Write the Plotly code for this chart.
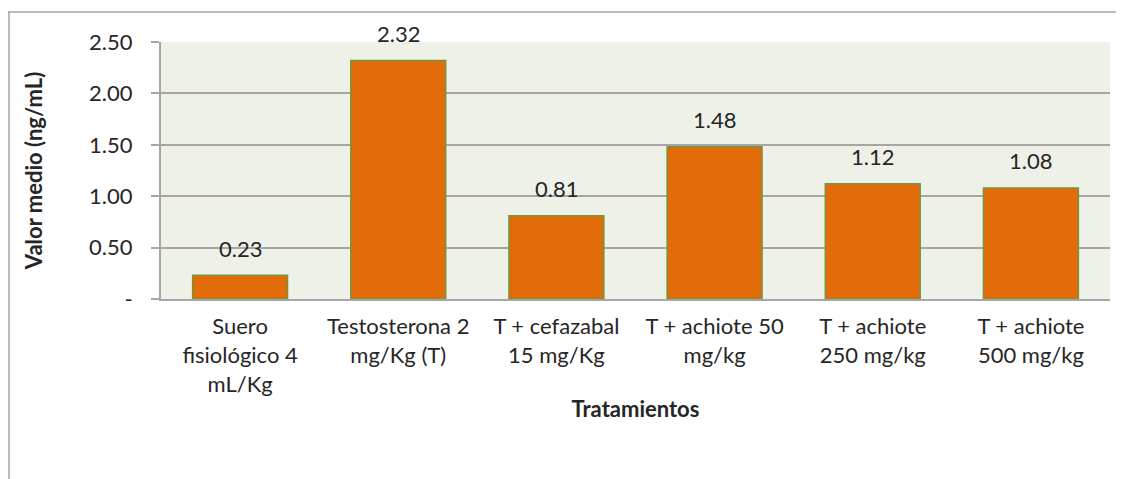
import plotly.graph_objects as go

categories = ["Suero<br>fisiológico 4<br>mL/Kg", "Testosterona 2<br>mg/Kg (T)", "T + cefazabal<br>15 mg/Kg",
              "T + achiote 50<br>mg/kg", "T + achiote<br>250 mg/kg", "T + achiote<br>500 mg/kg"]
values = [0.23, 2.32, 0.81, 1.48, 1.12, 1.08]
labels = ["0.23", "2.32", "0.81", "1.48", "1.12", "1.08"]
tick_vals = [0, 0.5, 1.0, 1.5, 2.0, 2.5]
tick_text = ["-", "0.50", "1.00", "1.50", "2.00", "2.50"]

FONT = "Lato, 'Open Sans', sans-serif"
GRID = "#A6A6A6"
FS = 22

# page has an 8px body margin, so figure is offset by (8, 8)
W, H = 1116, 471
L, R, T, B = 153, 14, 34, 180
PW, PH = W - L - R, H - T - B

fig = go.Figure()
fig.add_trace(go.Bar(
    x=list(range(len(categories))), y=values, width=0.6,
    marker=dict(color="#E36C0A", line=dict(color="#77933C", width=1.5)),
    showlegend=False, hoverinfo="skip",
))
for i, (v, t) in enumerate(zip(values, labels)):
    fig.add_annotation(x=i, y=v, text=t, showarrow=False, yshift=27,
                       font=dict(size=FS, color="#262626", family=FONT))

top_y = 1 + (T - 4) / PH
left_x = -L / PW
fig.update_layout(
    width=W, height=H,
    margin=dict(l=L, r=R, t=T, b=B),
    paper_bgcolor="white", plot_bgcolor="#EEF1E8",
    font=dict(family=FONT, size=FS, color="#262626"),
    xaxis=dict(range=[-0.5, 5.5], tickvals=list(range(len(categories))), ticktext=categories,
               showgrid=False, showline=True, linecolor=GRID, linewidth=2, ticks="",
               tickfont=dict(size=FS), zeroline=False, ticklabelstandoff=7,
               title=dict(text="<b>Tratamientos</b>", font=dict(size=FS), standoff=6)),
    yaxis=dict(range=[0, 2.5], tickvals=tick_vals, ticktext=tick_text,
               showgrid=True, gridcolor=GRID, gridwidth=2, showline=True, linecolor=GRID, linewidth=2,
               ticks="outside", ticklen=8, tickcolor=GRID, tickwidth=2, zeroline=False,
               tickfont=dict(size=FS), ticklabelstandoff=14,
               title=dict(text="<b>Valor medio (ng/mL)</b>", font=dict(size=FS), standoff=40)),
    shapes=[
        dict(type="line", xref="paper", yref="paper", x0=left_x, x1=1 + (R - 2) / PW,
             y0=top_y, y1=top_y, line=dict(color=GRID, width=1.5)),
        dict(type="line", xref="paper", yref="paper", x0=left_x + 1 / PW, x1=left_x + 1 / PW,
             y0=top_y, y1=-B / PH, line=dict(color=GRID, width=1.5)),
    ],
)

fig.write_html("out.html")
